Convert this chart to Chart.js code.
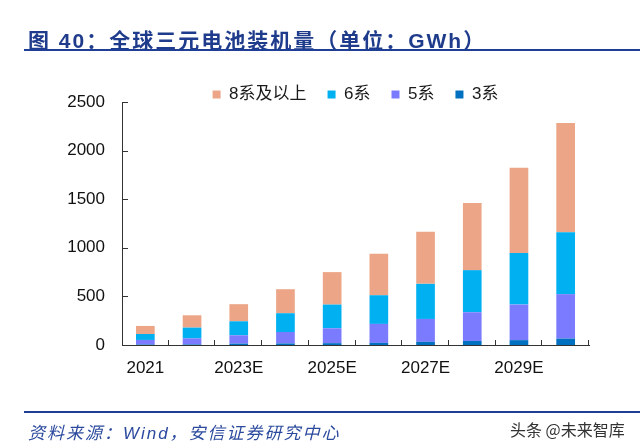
<!DOCTYPE html>
<html>
<head>
<meta charset="utf-8">
<script src="https://cdn.jsdelivr.net/npm/chart.js@4/dist/chart.umd.min.js"></script>
<style>
  body { margin: 0; background: #fff; }
  #wrap { position: relative; width: 640px; height: 447px; overflow: hidden; }
  #chart { position: absolute; left: 0; top: 0; }
  .title {
    position: absolute; left: 28px; top: 24px; line-height: 21px;
    font: bold 21px "Liberation Sans", "Noto Sans CJK SC", sans-serif;
    letter-spacing: 2px; color: #1F3C8C; white-space: nowrap;
  }
  .rule { position: absolute; left: 24px; width: 616px; height: 2px; background: #1F3F96; }
  .source {
    position: absolute; left: 28px; top: 419px; line-height: 18px;
    font: italic 17px "Liberation Sans", "Noto Sans CJK SC", sans-serif;
    letter-spacing: 2px; color: #2B4A9E; white-space: nowrap;
  }
  .mark {
    position: absolute; left: 510px; top: 417px; line-height: 16px;
    font: 16px "Noto Sans CJK SC", sans-serif; color: #333; white-space: nowrap;
  }
</style>
</head>
<body>
<div id="wrap">
  <canvas id="chart" width="640" height="447"></canvas>
  <div class="title">图 40：全球三元电池装机量（单位：GWh）</div>
  <div class="rule" style="top:49px"></div>
  <div class="rule" style="top:411px"></div>
  <div class="source">资料来源：Wind，安信证券研究中心</div>
  <div class="mark">头条 @未来智库</div>
</div>
<script>
// years on the x axis (only every other one gets a label)
const years = ['2021', '2022', '2023E', '2024E', '2025E', '2026E', '2027E', '2028E', '2029E', '2030E'];

// GWh per chemistry, bottom of the stack first
const ncm3 = [5, 6, 14, 16, 19, 22, 33, 42, 50, 66];
const ncm5 = [47, 63, 86, 118, 153, 195, 235, 295, 366, 457];
const ncm6 = [61, 110, 144, 193, 244, 295, 361, 433, 530, 636];
const ncm8 = [83, 127, 176, 247, 334, 427, 537, 691, 877, 1124];

const yTicks = [0, 500, 1000, 1500, 2000, 2500];

const font = '"Liberation Sans", "Noto Sans CJK SC", sans-serif';

const makeSet = (label, data, color) => ({
  label,
  data,
  backgroundColor: color,
  borderWidth: 0,
  barPercentage: 0.4,
  categoryPercentage: 1,
});

// small tick marks pointing into the plot, like the original
const innerTicks = {
  id: 'innerTicks',
  afterDraw(chart) {
    const { ctx, chartArea, scales } = chart;
    ctx.save();
    ctx.strokeStyle = '#333';
    ctx.lineWidth = 1;
    ctx.beginPath();
    scales.y.ticks.forEach((t) => {
      const y = Math.round(scales.y.getPixelForValue(t.value)) + 0.5;
      ctx.moveTo(chartArea.left, y);
      ctx.lineTo(chartArea.left + 6, y);
    });
    const n = years.length;
    const w = (chartArea.right - chartArea.left) / n;
    for (let k = 1; k <= n; k++) {
      const x = Math.round(chartArea.left + k * w) - 0.5;
      ctx.moveTo(x, chartArea.bottom);
      ctx.lineTo(x, chartArea.bottom - 5);
    }
    ctx.stroke();
    ctx.restore();
  },
};

const config = {
  type: 'bar',
  data: {
    labels: years,
    datasets: [
      makeSet('3系', ncm3, '#0070C0'),
      makeSet('5系', ncm5, '#7B7BFF'),
      makeSet('6系', ncm6, '#00B0F0'),
      makeSet('8系及以上', ncm8, '#ECA687'),
    ],
  },
  options: {
    responsive: false,
    animation: false,
    devicePixelRatio: 1,
    layout: { padding: { left: 0, right: 51, top: 65, bottom: 0 } },
    plugins: {
      tooltip: { enabled: false },
      legend: {
        position: 'top',
        fullSize: false,
        reverse: true,
        maxHeight: 37,
        labels: {
          boxWidth: 8,
          boxHeight: 8,
          padding: 21,
          color: '#1a1a1a',
          font: { family: font, size: 17 },
        },
      },
    },
    scales: {
      x: {
        stacked: true,
        afterFit: (s) => { s.height = 102; },
        border: { color: '#333', width: 1 },
        grid: { display: false },
        ticks: {
          autoSkip: false,
          maxRotation: 0,
          padding: 5,
          color: '#111',
          font: { family: font, size: 17 },
          callback: (v, i) => (i % 2 === 0 ? years[i] : ''),
        },
      },
      y: {
        stacked: true,
        min: 0,
        max: 2500,
        afterFit: (s) => { s.width = 122; },
        afterBuildTicks: (s) => { s.ticks = yTicks.map((v) => ({ value: v })); },
        border: { color: '#333', width: 1 },
        grid: { display: false },
        ticks: {
          padding: 9,
          color: '#111',
          font: { family: font, size: 17 },
          callback: (v) => String(v),
        },
      },
    },
  },
  plugins: [innerTicks],
};

new Chart(document.getElementById('chart').getContext('2d'), config);
</script>
</body>
</html>
